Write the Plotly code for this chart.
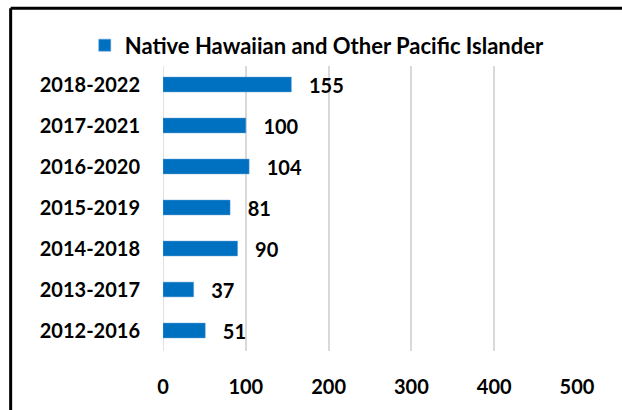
import plotly.graph_objects as go

periodos = ["2012-2016", "2013-2017", "2014-2018", "2015-2019",
            "2016-2020", "2017-2021", "2018-2022"]
valores = [51, 37, 90, 81, 104, 100, 155]
serie = "Native Hawaiian and Other Pacific Islander"
x_ticks = [0, 100, 200, 300, 400, 500]

AZUL = "#0070C0"
FONTE = "Lato"

fig = go.Figure()
fig.add_trace(go.Bar(
    name=serie,
    y=periodos,
    x=valores,
    orientation="h",
    width=0.36,
    marker_color=AZUL,
    marker_line=dict(color="#5B9BD5", width=0.5),
    texttemplate="\u00a0\u00a0\u00a0%{x}",
    textposition="outside",
    constraintext="none",
    textfont=dict(family=FONTE, size=20, color="black", weight="bold"),
    cliponaxis=False,
))

# moldura: só as bordas esquerda e superior aparecem no recorte
moldura = dict(xref="paper", yref="paper", line=dict(color="black", width=3), layer="above")

fig.update_layout(
    width=622,
    height=410,
    margin=dict(l=163, r=45, t=64, b=55),
    paper_bgcolor="white",
    plot_bgcolor="white",
    font=dict(family=FONTE, size=20, color="black"),
    showlegend=True,
    legend=dict(
        orientation="h", x=-0.189, xanchor="left", y=1.065, yanchor="middle",
        font=dict(family=FONTE, size=22, color="black", weight="bold"),
    ),
    xaxis=dict(
        range=[0, 500],
        tickvals=x_ticks,
        showgrid=True,
        gridcolor="#D9D9D9",
        gridwidth=1.5,
        zeroline=False,
        showline=False,
        ticklabelstandoff=22,
        tickfont=dict(family=FONTE, size=20, color="black", weight="bold"),
    ),
    yaxis=dict(
        categoryorder="array",
        categoryarray=periodos,
        showgrid=False,
        showline=False,
        ticklabelstandoff=22,
        tickfont=dict(family=FONTE, size=20, color="black", weight="bold"),
    ),
    shapes=[
        dict(type="line", x0=-0.368, x1=-0.368, y0=-0.3, y1=1.194, **moldura),
        dict(type="line", x0=-0.368, x1=1.3, y0=1.194, y1=1.194, **moldura),
    ],
)
# linha do zero, igual às grades
fig.add_shape(type="line", xref="x", yref="paper", x0=0, x1=0, y0=0, y1=1,
              line=dict(color="#D9D9D9", width=1.5), layer="below")

fig.write_html(
    "out.html",
    config={"displayModeBar": False},
    post_script="document.body.style.margin='0';document.body.style.overflow='hidden';",
)
